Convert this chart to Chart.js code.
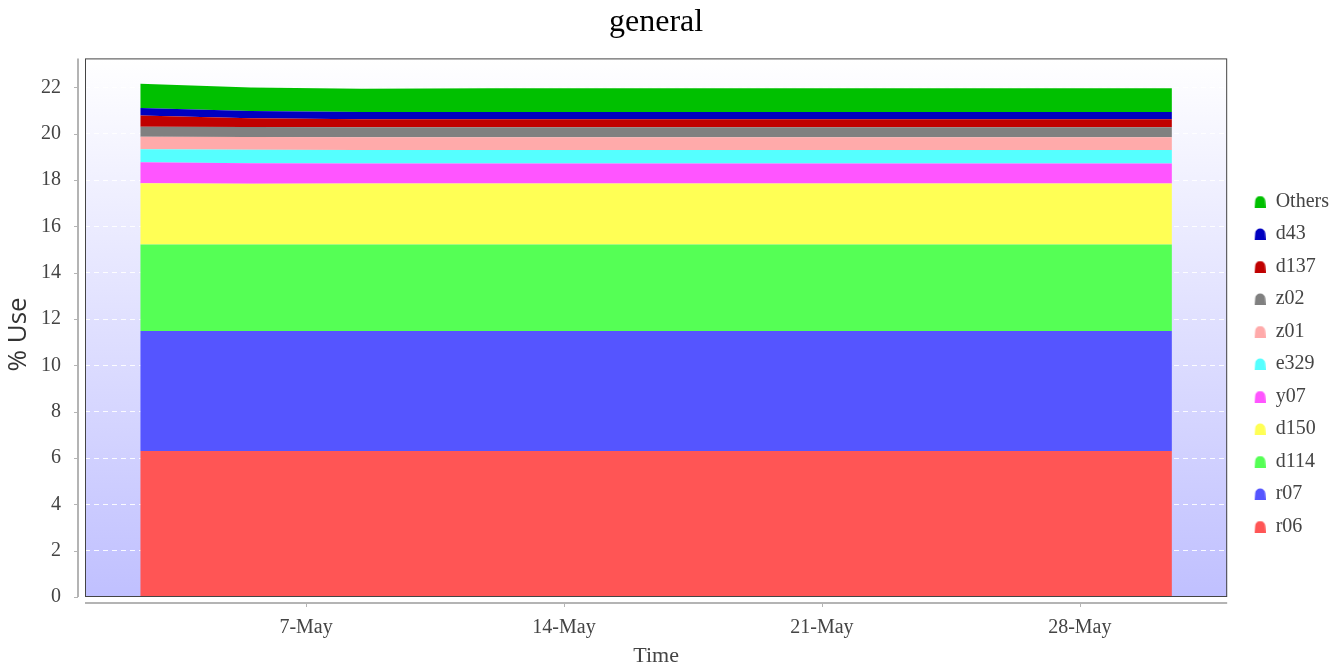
<!DOCTYPE html>
<html>
<head>
<meta charset="utf-8">
<title>general</title>
<script src="https://cdn.jsdelivr.net/npm/chart.js@4.4.1/dist/chart.umd.min.js"></script>
<style>
    html, body { margin: 0; padding: 0; background: #ffffff; }
    #wrap { width: 1343px; height: 668px; }
</style>
</head>
<body>
<div id="wrap"><canvas id="mygraph" width="1343" height="668"></canvas></div>
<script>
// sample times, as day of May (1 = May 1 00:00)
var days = [2.5, 5.5, 8.5, 12, 16, 20, 24, 28, 30.5];

// series values (% use), bottom layer first
var r06    = [6.30, 6.30, 6.30, 6.30, 6.30, 6.30, 6.30, 6.30, 6.30];
var r07    = [5.18, 5.18, 5.18, 5.18, 5.18, 5.18, 5.18, 5.18, 5.18];
var d114   = [3.74, 3.74, 3.74, 3.74, 3.74, 3.74, 3.74, 3.74, 3.74];
var d150   = [2.64, 2.62, 2.63, 2.63, 2.63, 2.63, 2.63, 2.63, 2.63];
var y07    = [0.91, 0.88, 0.86, 0.86, 0.86, 0.86, 0.86, 0.86, 0.86];
var e329   = [0.56, 0.59, 0.59, 0.59, 0.59, 0.59, 0.59, 0.59, 0.59];
var z01    = [0.54, 0.55, 0.55, 0.55, 0.55, 0.55, 0.55, 0.55, 0.55];
var z02    = [0.43, 0.43, 0.43, 0.43, 0.43, 0.43, 0.43, 0.43, 0.43];
var d137   = [0.49, 0.38, 0.34, 0.34, 0.34, 0.34, 0.34, 0.34, 0.34];
var d43    = [0.32, 0.31, 0.32, 0.32, 0.32, 0.32, 0.32, 0.32, 0.32];
var others = [1.05, 1.01, 1.00, 1.02, 1.02, 1.02, 1.02, 1.02, 1.02];

var seriesNames = ["r06", "r07", "d114", "d150", "y07", "e329", "z01", "z02", "d137", "d43", "Others"];
var seriesValues = [r06, r07, d114, d150, y07, e329, z01, z02, d137, d43, others];
var seriesColors = ["#ff5555", "#5555ff", "#55ff55", "#ffff55", "#ff55ff", "#55ffff",
                    "#ffaaaa", "#808080", "#c00000", "#0000c0", "#00c000"];

var xTickDays = [7, 14, 21, 28];
var xTickLabels = ["7-May", "14-May", "21-May", "28-May"];
var yTicks = [0, 2, 4, 6, 8, 10, 12, 14, 16, 18, 20, 22];

// little dome shaped legend marker, drawn off centre so it sits where the original does
function makeMarker(color) {
    var c = document.createElement("canvas");
    c.width = 26;
    c.height = 12;
    var g = c.getContext("2d");
    var x0 = 15, x1 = 26, r = 5.5;
    g.fillStyle = color;
    g.beginPath();
    g.moveTo(x0, 12);
    g.lineTo(x0 + 0.5, r);
    g.arc((x0 + x1) / 2, r, r - 0.5, Math.PI, 0);
    g.lineTo(x1, 12);
    g.closePath();
    g.fill();
    return c;
}

var datasets = seriesNames.map(function(name, i) {
    return {
        label: name,
        data: days.map(function(d, j) { return { x: d, y: seriesValues[i][j] }; }),
        backgroundColor: seriesColors[i],
        borderColor: seriesColors[i],
        borderWidth: 0,
        pointRadius: 0,
        tension: 0,
        fill: i === 0 ? "origin" : "-1",
    };
});

var plotFrame = {
    id: "plotFrame",
    beforeDraw: function(chart) {
        var a = chart.chartArea;
        var c = chart.ctx;
        var grad = c.createLinearGradient(0, a.top, 0, a.bottom);
        grad.addColorStop(0, "#ffffff");
        grad.addColorStop(1, "#c0c0ff");
        c.save();
        c.fillStyle = grad;
        c.fillRect(a.left, a.top, a.right - a.left, a.bottom - a.top);
        c.restore();
    },
    afterDraw: function(chart) {
        var a = chart.chartArea;
        var c = chart.ctx;
        var ys = chart.scales.y;
        var xs = chart.scales.x;
        c.save();
        // frame round the plot
        c.strokeStyle = "#444444";
        c.lineWidth = 1;
        c.strokeRect(a.left + 0.5, a.top + 0.5, a.right - a.left - 1, a.bottom - a.top - 1);
        // detached axis lines
        c.strokeStyle = "#b4b4b4";
        c.lineWidth = 2;
        c.beginPath();
        c.moveTo(a.left - 7, a.top);
        c.lineTo(a.left - 7, a.bottom);
        c.moveTo(a.left, a.bottom + 6);
        c.lineTo(a.right, a.bottom + 6);
        c.stroke();
        c.lineWidth = 1;
        c.beginPath();
        yTicks.forEach(function(v) {
            var py = Math.round(ys.getPixelForValue(v)) + 0.5;
            c.moveTo(a.left - 11, py);
            c.lineTo(a.left - 7, py);
        });
        xTickDays.forEach(function(v) {
            var px = Math.round(xs.getPixelForValue(v)) + 0.5;
            c.moveTo(px, a.bottom + 6);
            c.lineTo(px, a.bottom + 10);
        });
        c.stroke();
        c.restore();
    },
};

var ctx = document.getElementById("mygraph").getContext("2d");

var chart = new Chart(ctx, {
    type: "line",
    data: { datasets: datasets },
    plugins: [plotFrame],
    options: {
        responsive: false,
        animation: false,
        layout: { padding: { right: 4 } },
        plugins: {
            title: {
                display: true,
                text: "general",
                fullSize: false,
                color: "#000000",
                font: { family: "'Liberation Serif', 'Times New Roman', serif", size: 32, weight: "normal", lineHeight: 1.2 },
                padding: { top: 3, bottom: 17 },
            },
            legend: {
                position: "right",
                align: "start",
                reverse: true,
                title: {
                    display: true,
                    text: " ",
                    font: { size: 20, lineHeight: 1.2 },
                    padding: { top: 155, bottom: 0 },
                },
                labels: {
                    usePointStyle: true,
                    pointStyleWidth: 26,
                    boxHeight: 12,
                    padding: 12.5,
                    color: "#444444",
                    font: { family: "'Liberation Serif', 'Times New Roman', serif", size: 20 },
                    generateLabels: function(chart) {
                        var items = Chart.defaults.plugins.legend.labels.generateLabels(chart);
                        items.forEach(function(it) {
                            it.pointStyle = makeMarker(seriesColors[it.datasetIndex]);
                        });
                        return items;
                    },
                },
            },
            tooltip: { enabled: false },
        },
        scales: {
            x: {
                type: "linear",
                min: 1,
                max: 32,
                afterFit: function(scale) { scale.height = 71; },
                afterBuildTicks: function(scale) {
                    scale.ticks = xTickDays.map(function(v) { return { value: v }; });
                },
                ticks: {
                    autoSkip: false,
                    maxRotation: 0,
                    padding: 19,
                    color: "#444444",
                    font: { family: "'Liberation Serif', 'Times New Roman', serif", size: 20 },
                    callback: function(v) { return xTickLabels[xTickDays.indexOf(v)]; },
                },
                grid: { display: false, drawTicks: false },
                border: { display: false },
                title: {
                    display: true,
                    text: "Time",
                    color: "#444444",
                    font: { family: "'Liberation Serif', 'Times New Roman', serif", size: 22 },
                    padding: { top: 0, bottom: -1 },
                },
            },
            y: {
                stacked: true,
                min: 0,
                max: 23.25,
                afterFit: function(scale) { scale.width = 85; },
                afterBuildTicks: function(scale) {
                    scale.ticks = yTicks.map(function(v) { return { value: v }; });
                },
                ticks: {
                    padding: 24,
                    color: "#444444",
                    font: { family: "'Liberation Serif', 'Times New Roman', serif", size: 20 },
                },
                grid: {
                    color: "rgba(255,255,255,0.9)",
                    lineWidth: 1,
                    drawTicks: false,
                },
                border: { display: false, dash: [5, 4] },
                title: {
                    display: true,
                    text: "% Use  ",
                    color: "#333333",
                    font: { family: "'Open Sans', sans-serif", size: 26 },
                    padding: { top: 3, bottom: 0 },
                },
            },
        },
    },
});
</script>
</body>
</html>
